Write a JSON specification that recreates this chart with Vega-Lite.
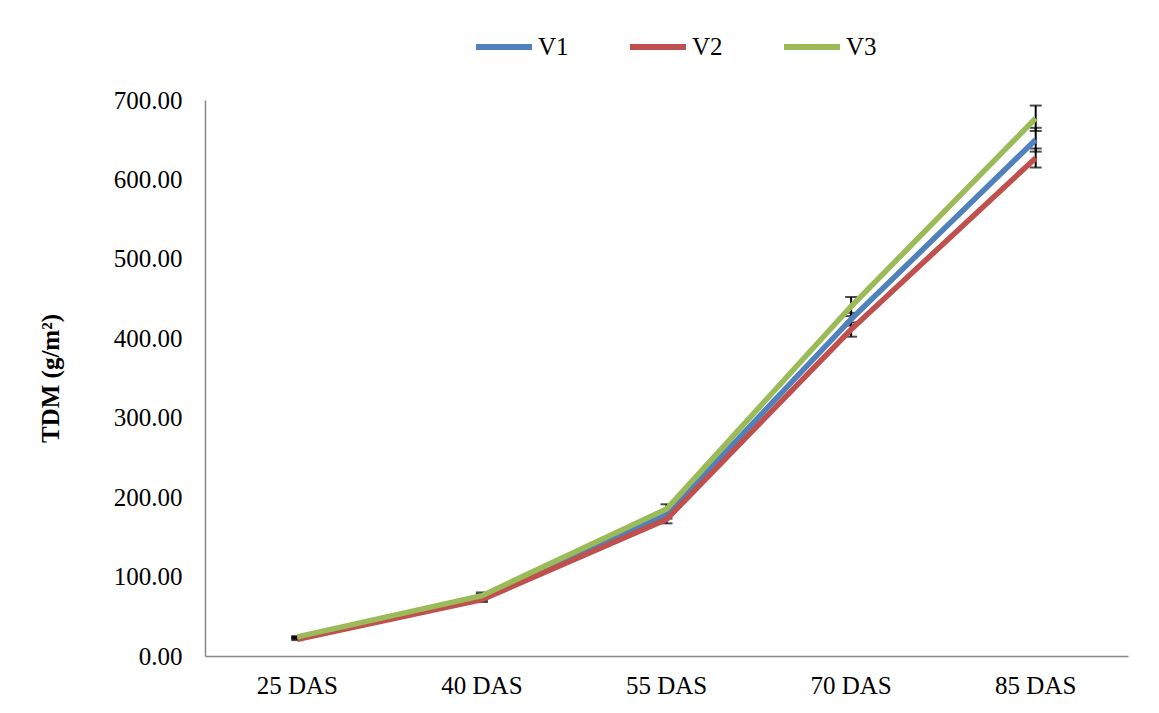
{
  "$schema": "https://vega.github.io/schema/vega-lite/v6.json",
  "width": 923,
  "height": 556,
  "autosize": "none",
  "padding": {"left": 205, "top": 100, "right": 31, "bottom": 57},
  "background": "white",
  "config": {
    "view": {"stroke": null},
    "font": "Liberation Serif",
    "axis": {"labelFont": "Liberation Serif", "titleFont": "Liberation Serif", "labelColor": "black", "titleColor": "black", "domainColor": "#888888", "grid": false, "ticks": false, "labelOverlap": false},
    "legend": {"labelFont": "Liberation Serif"}
  },
  "data": {
    "values": [
      {"stage": "25 DAS", "variety": "V1", "tdm": 23, "lo": 22, "hi": 24},
      {"stage": "40 DAS", "variety": "V1", "tdm": 74, "lo": 70, "hi": 78},
      {"stage": "55 DAS", "variety": "V1", "tdm": 178, "lo": 173, "hi": 183},
      {"stage": "70 DAS", "variety": "V1", "tdm": 424, "lo": 416, "hi": 432},
      {"stage": "85 DAS", "variety": "V1", "tdm": 650, "lo": 635, "hi": 665},
      {"stage": "25 DAS", "variety": "V2", "tdm": 21, "lo": 20, "hi": 22},
      {"stage": "40 DAS", "variety": "V2", "tdm": 71, "lo": 68, "hi": 74},
      {"stage": "55 DAS", "variety": "V2", "tdm": 172, "lo": 167, "hi": 177},
      {"stage": "70 DAS", "variety": "V2", "tdm": 411, "lo": 402, "hi": 420},
      {"stage": "85 DAS", "variety": "V2", "tdm": 627, "lo": 615, "hi": 639},
      {"stage": "25 DAS", "variety": "V3", "tdm": 24, "lo": 23, "hi": 25},
      {"stage": "40 DAS", "variety": "V3", "tdm": 76, "lo": 72, "hi": 80},
      {"stage": "55 DAS", "variety": "V3", "tdm": 185, "lo": 179, "hi": 191},
      {"stage": "70 DAS", "variety": "V3", "tdm": 440, "lo": 428, "hi": 452},
      {"stage": "85 DAS", "variety": "V3", "tdm": 677, "lo": 661, "hi": 693}
    ]
  },
  "encoding": {
    "x": {
      "field": "stage", "type": "ordinal",
      "scale": {"type": "band", "paddingInner": 0, "paddingOuter": 0},
      "axis": {"title": null, "labelAngle": 0, "labelFontSize": 25, "labelPadding": 17, "domainWidth": 1.5}
    }
  },
  "layer": [
    {
      "mark": {"type": "rule", "color": "black", "strokeWidth": 2},
      "encoding": {
        "y": {"field": "lo", "type": "quantitative"},
        "y2": {"field": "hi"}
      }
    },
    {
      "mark": {"type": "tick", "color": "black", "orient": "horizontal", "size": 12, "thickness": 2},
      "encoding": {"y": {"field": "lo", "type": "quantitative"}}
    },
    {
      "mark": {"type": "tick", "color": "black", "orient": "horizontal", "size": 12, "thickness": 2},
      "encoding": {"y": {"field": "hi", "type": "quantitative"}}
    },
    {
      "mark": {"type": "line", "strokeWidth": 5.5},
      "encoding": {
        "y": {
          "field": "tdm", "type": "quantitative",
          "scale": {"domain": [0, 700]},
          "axis": {"title": "TDM (g/m²)", "titleFontSize": 25, "titleFontWeight": "bold", "titlePadding": 50, "labelFontSize": 25, "format": ".2f", "values": [0, 100, 200, 300, 400, 500, 600, 700], "labelPadding": 23, "domainWidth": 1.5}
        },
        "color": {
          "field": "variety", "type": "nominal",
          "scale": {"domain": ["V1", "V2", "V3"], "range": ["#4F81BD", "#C0504D", "#9BBB59"]},
          "legend": {"title": null, "orient": "none", "legendX": 268, "legendY": -84, "direction": "horizontal", "symbolType": "stroke", "symbolStrokeWidth": 6, "symbolSize": 3136, "labelFontSize": 25, "labelColor": "black", "columnPadding": 49, "labelOffset": 3}
        }
      }
    }
  ]
}
